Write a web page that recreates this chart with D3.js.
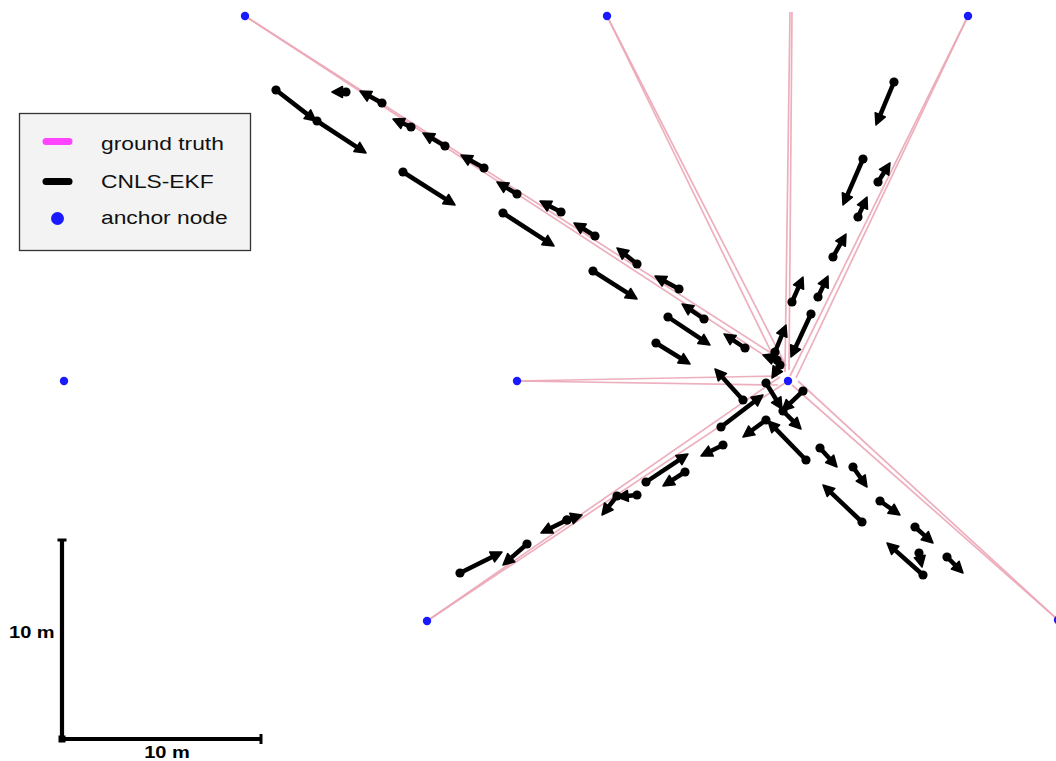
<!DOCTYPE html>
<html>
<head>
<meta charset="utf-8">
<script src="https://cdn.jsdelivr.net/npm/d3@7"></script>
<style>
  html, body { margin: 0; padding: 0; background: #fff; }
  svg { display: block; }
</style>
</head>
<body>
<svg id="chart" width="1056" height="761"></svg>
<script>
// ---- data (metres, origin at central anchor) ----
const anchors = [
  [-27.15, 18.25], [-9.05, 18.25], [9.0, 18.25],
  [-36.2, 0.0], [-13.55, 0.0], [0.0, 0.0],
  [-18.05, -12.0], [13.5, -11.95]
];

// ground-truth walks: [start, end]
const truthStart = [
  [-27.15, 18.25], [-27.15, 18.25],
  [-9.05, 18.25], [-9.05, 18.25],
  [0.1, 18.45], [0.2, 18.45],
  [9.0, 18.25], [9.0, 18.25],
  [-13.55, 0.0], [-13.55, 0.0],
  [-18.05, -12.0], [-18.05, -12.0],
  [13.5, -11.95], [13.5, -11.95]
];
const truthEnd = [
  [-0.15, 0.95], [-0.15, 0.6],
  [-0.35, 0.45], [-0.1, 0.75],
  [-0.15, 0.45], [0.05, 0.55],
  [0.1, 0.25], [0.4, 0.15],
  [-0.5, 0.25], [-0.5, -0.2],
  [-0.4, 0.2], [-0.15, -0.1],
  [0.2, -0.2], [0.5, 0.0]
];

// CNLS-EKF estimates: tail (dot) -> head (arrow)
const estTail = [
  [-25.6, 14.55], [-23.55, 13.0], [-22.1, 14.45], [-20.3, 13.9], [-18.85, 12.7],
  [-17.15, 11.75], [-15.2, 10.65], [-19.25, 10.45], [-13.55, 9.35], [-14.25, 8.4],
  [-11.35, 8.45], [-9.65, 7.25], [-7.55, 5.85], [-9.75, 5.5], [-5.45, 4.6],
  [-4.2, 3.1], [-6.0, 3.2], [-2.15, 1.65], [-6.6, 1.9], [-2.25, -0.95],
  [-0.55, 1.05], [-0.65, 1.45], [1.15, 3.35], [-0.4, 0.8], [0.75, -0.5],
  [-1.1, -0.1], [-0.25, -1.5], [-3.35, -2.3], [0.9, -3.95], [-1.1, -1.95],
  [-3.25, -3.2], [-5.15, -4.55], [-7.1, -5.05], [-7.55, -5.7], [-8.55, -5.75],
  [-11.05, -6.95], [-11.05, -6.95], [-13.05, -8.15], [-16.4, -9.6],
  [1.6, -3.35], [3.25, -4.3], [3.7, -7.05], [4.6, -6.0], [6.35, -7.3],
  [6.75, -9.7], [6.55, -8.6], [7.95, -8.8],
  [5.3, 14.95], [3.75, 11.1], [4.5, 9.95], [3.5, 8.2], [2.25, 6.2], [1.5, 4.2], [0.2, 3.95]
];
const estHead = [
  [-23.6, 13.0], [-21.1, 11.4], [-22.8, 14.45], [-21.4, 14.5], [-19.75, 13.1],
  [-18.25, 12.4], [-16.35, 11.3], [-16.65, 8.8], [-14.55, 9.95], [-11.7, 6.75],
  [-12.4, 9.0], [-10.7, 7.9], [-8.55, 6.65], [-7.55, 4.1], [-6.65, 5.25],
  [-5.3, 3.85], [-3.9, 1.8], [-3.2, 2.35], [-4.9, 0.85], [-3.65, 0.6],
  [-1.25, 1.3], [-0.1, 2.8], [0.15, 1.2], [-0.8, 0.15], [-0.3, -1.5],
  [-0.3, -1.4], [0.65, -2.4], [-1.25, -0.7], [-1.0, -2.0], [-2.25, -2.8],
  [-4.35, -3.75], [-6.25, -5.25], [-5.0, -3.65], [-8.55, -5.8], [-9.3, -6.7],
  [-12.35, -7.6], [-10.3, -6.7], [-14.25, -9.2], [-14.3, -8.55],
  [2.45, -4.3], [3.95, -5.3], [1.75, -5.2], [5.6, -6.7], [7.25, -8.1],
  [4.95, -8.1], [6.7, -9.3], [8.75, -9.6],
  [4.4, 12.8], [2.75, 8.8], [5.1, 10.9], [3.95, 9.2], [2.9, 7.35], [2.0, 5.25], [0.75, 5.2]
];

const legendLabels = ["ground truth", "CNLS-EKF", "anchor node"];
const scaleLength = 10;          // metres
const scaleLabel = "10 m";
const scaleOrigin = [-36.3, -17.9];

// ---- scales ----
const W = 1056, H = 761;
const x = d3.scaleLinear().domain([-39.4, 13.4]).range([0, W]);
const y = d3.scaleLinear().domain([19.05, -19.0]).range([0, H]);

const svg = d3.select("#chart");

// ground truth
svg.append("g")
  .selectAll("line")
  .data(d3.range(truthStart.length))
  .join("line")
  .attr("x1", i => x(truthStart[i][0]))
  .attr("y1", i => y(truthStart[i][1]))
  .attr("x2", i => x(truthEnd[i][0]))
  .attr("y2", i => y(truthEnd[i][1]))
  .attr("stroke", "#eba6b6")
  .attr("stroke-width", 1.7)
  .attr("stroke-opacity", 0.9);

// estimates
const ARROW_LEN = 11, ARROW_HW = 5.5;
const est = d3.range(estTail.length).map(i => {
  const x1 = x(estTail[i][0]), y1 = y(estTail[i][1]);
  const x2 = x(estHead[i][0]), y2 = y(estHead[i][1]);
  const dx = x2 - x1, dy = y2 - y1, L = Math.hypot(dx, dy) || 1;
  const ux = dx / L, uy = dy / L;
  return {x1, y1, x2, y2, ux, uy, L};
});

const gEst = svg.append("g");
gEst.selectAll("line")
  .data(est)
  .join("line")
  .attr("x1", d => d.x1)
  .attr("y1", d => d.y1)
  .attr("x2", d => d.x2 - d.ux * Math.min(ARROW_LEN - 1, d.L))
  .attr("y2", d => d.y2 - d.uy * Math.min(ARROW_LEN - 1, d.L))
  .attr("stroke", "#000")
  .attr("stroke-width", 4.5);

gEst.selectAll("path")
  .data(est)
  .join("path")
  .attr("d", d => {
    const len = Math.min(ARROW_LEN, d.L * 0.75);
    const bx = d.x2 - d.ux * len, by = d.y2 - d.uy * len;
    const px = -d.uy, py = d.ux;
    return `M${d.x2},${d.y2}L${bx + px * ARROW_HW},${by + py * ARROW_HW}L${bx - px * ARROW_HW},${by - py * ARROW_HW}Z`;
  })
  .attr("fill", "#000")
  .attr("stroke", "#000")
  .attr("stroke-width", 1.5)
  .attr("stroke-linejoin", "round");

gEst.selectAll("circle")
  .data(est)
  .join("circle")
  .attr("cx", d => d.x1)
  .attr("cy", d => d.y1)
  .attr("r", 4.6)
  .attr("fill", "#000");

// anchors
svg.append("g")
  .selectAll("circle")
  .data(anchors)
  .join("circle")
  .attr("cx", d => x(d[0]))
  .attr("cy", d => y(d[1]))
  .attr("r", 4.2)
  .attr("fill", "#1a1aff");

// legend
const lg = svg.append("g");
lg.append("rect")
  .attr("x", 19.5).attr("y", 113.5).attr("width", 231).attr("height", 137)
  .attr("fill", "#f3f3f3").attr("stroke", "#333").attr("stroke-width", 1.3);
const rowsY = [149.5, 188, 224];
lg.append("line").attr("x1", 46).attr("x2", 69).attr("y1", 141.5).attr("y2", 141.5)
  .attr("stroke", "#ff44ff").attr("stroke-width", 7).attr("stroke-linecap", "round");
lg.append("line").attr("x1", 46).attr("x2", 69).attr("y1", 181.5).attr("y2", 181.5)
  .attr("stroke", "#000").attr("stroke-width", 7).attr("stroke-linecap", "round");
lg.append("circle").attr("cx", 57.5).attr("cy", 218.5).attr("r", 6.5).attr("fill", "#1a1aff");
lg.selectAll("text.lab")
  .data(legendLabels)
  .join("text")
  .attr("class", "lab")
  .attr("transform", (d, i) => `translate(101,${rowsY[i]}) scale(1.2,1)`)
  .attr("font-family", "Liberation Sans, Arial, sans-serif")
  .attr("font-size", 19)
  .attr("fill", "#111")
  .text(d => d);

// scale bar
const sb = svg.append("g");
const ox = x(scaleOrigin[0]), oy = y(scaleOrigin[1]);
const ex = x(scaleOrigin[0] + scaleLength), ey = y(scaleOrigin[1] + scaleLength);
sb.append("path")
  .attr("d", `M${ox},${ey}L${ox},${oy}L${ex},${oy}`)
  .attr("fill", "none").attr("stroke", "#000").attr("stroke-width", 4.2)
  .attr("stroke-linejoin", "miter");
sb.append("line").attr("x1", ox - 4.5).attr("x2", ox + 4.5).attr("y1", ey + 1).attr("y2", ey + 1)
  .attr("stroke", "#000").attr("stroke-width", 3);
sb.append("line").attr("x1", ex - 1).attr("x2", ex - 1).attr("y1", oy - 5).attr("y2", oy + 5)
  .attr("stroke", "#000").attr("stroke-width", 3);
sb.append("rect").attr("x", ox - 3.5).attr("y", oy - 3.5).attr("width", 7).attr("height", 7).attr("fill", "#000");
sb.append("text")
  .attr("transform", `translate(9,${(oy + ey) / 2 - 1}) scale(1.18,1)`)
  .attr("font-family", "Liberation Sans, Arial, sans-serif")
  .attr("font-weight", "bold").attr("font-size", 17).attr("fill", "#000")
  .text(scaleLabel);
sb.append("text")
  .attr("transform", `translate(${(ox + ex) / 2 + 5},758) scale(1.18,1)`)
  .attr("text-anchor", "middle")
  .attr("font-family", "Liberation Sans, Arial, sans-serif")
  .attr("font-weight", "bold").attr("font-size", 17).attr("fill", "#000")
  .text(scaleLabel);
</script>
</body>
</html>
